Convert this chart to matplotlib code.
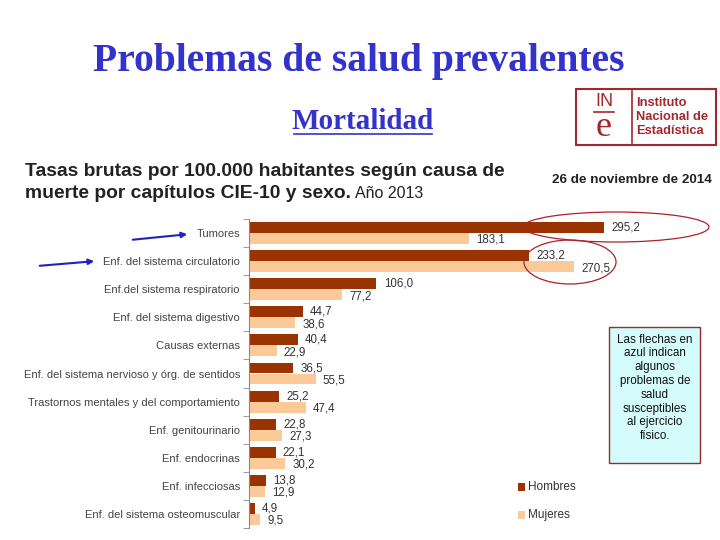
import numpy as np
import matplotlib.pyplot as plt
from matplotlib.patches import Rectangle, Ellipse, FancyArrowPatch

categorias = ['Tumores', 'Enf. del sistema circulatorio', 'Enf.del sistema respiratorio',
              'Enf. del sistema digestivo', 'Causas externas',
              'Enf. del sistema nervioso y órg. de sentidos',
              'Trastornos mentales y del comportamiento', 'Enf. genitourinario',
              'Enf. endocrinas', 'Enf. infecciosas', 'Enf. del sistema osteomuscular']
hombres = [295.2, 233.2, 106.0, 44.7, 40.4, 36.5, 25.2, 22.8, 22.1, 13.8, 4.9]
mujeres = [183.1, 270.5, 77.2, 38.6, 22.9, 55.5, 47.4, 27.3, 30.2, 12.9, 9.5]

c_h = '#993300'
c_m = '#FCC998'
azul = '#3333CC'
ine_red = '#A3282E'

W, H = 720, 540
fig = plt.figure(figsize=(7.2, 5.4), dpi=100)
plt.rcParams['font.family'] = ['Liberation Sans', 'DejaVu Sans']

def fx(x):
    return x / W

def fy(y):
    return 1 - y / H

# titulo de la diapositiva
fig.text(fx(359), fy(62), 'Problemas de salud prevalentes', family='Liberation Serif',
         fontsize=28.5, weight='bold', color=azul, ha='center', va='center')
fig.text(fx(363), fy(122), 'Mortalidad', family='Liberation Serif', fontsize=21,
         weight='bold', color=azul, ha='center', va='center')
fig.add_artist(plt.Line2D([fx(294), fx(432)], [fy(134), fy(134)], color=azul, lw=1.2))

# logo INE
fig.add_artist(Rectangle((fx(576), fy(145)), fx(140), 56 / H, fill=False,
                         edgecolor=ine_red, lw=1.5))
fig.add_artist(plt.Line2D([fx(632), fx(632)], [fy(91), fy(143)], color=ine_red, lw=1.2))
fig.text(fx(604), fy(102), 'IN', fontsize=13, color=ine_red, ha='center', va='center')
fig.add_artist(plt.Line2D([fx(594), fx(614)], [fy(112), fy(112)], color=ine_red, lw=1.2))
fig.text(fx(604), fy(127), 'e', family='Liberation Serif', fontsize=26,
         color=ine_red, ha='center', va='center')
for i, t in enumerate(['Instituto', 'Nacional de', 'Estadística']):
    fig.text(fx(636), fy(103 + i * 14), t, fontsize=9.3, weight='bold',
             color=ine_red, ha='left', va='center')

# titulo del grafico
fig.text(fx(25), fy(172), 'Tasas brutas por 100.000 habitantes según causa de',
         fontsize=13.9, weight='bold', color='#222222', ha='left', va='center')
t2 = fig.text(fx(25), fy(193), 'muerte por capítulos CIE-10 y sexo.',
              fontsize=13.9, weight='bold', color='#222222', ha='left', va='center')
fig.canvas.draw()
bb = t2.get_window_extent()
fig.text(bb.x1 / W + fx(4), fy(193), 'Año 2013', fontsize=11.5, color='#222222',
         ha='left', va='center')
fig.text(fx(712), fy(180), '26 de noviembre de 2014', fontsize=9.7, weight='bold',
         color='#222222', ha='right', va='center')

# barras
ax = fig.add_axes([fx(249), fy(528), fx(457), 309 / H])
y = np.arange(len(categorias))
bh = 0.39
ax.barh(y - bh / 2, hombres, height=bh, color=c_h)
ax.barh(y + bh / 2, mujeres, height=bh, color=c_m)
for i in range(len(categorias)):
    ax.text(hombres[i] + 6, y[i] - bh / 2, f'{hombres[i]:.1f}'.replace('.', ','),
            fontsize=8.3, color='#333333', va='center', ha='left')
    ax.text(mujeres[i] + 6, y[i] + bh / 2 + 0.05, f'{mujeres[i]:.1f}'.replace('.', ','),
            fontsize=8.3, color='#333333', va='center', ha='left')
ax.set_xlim(0, 380)
ax.set_ylim(len(categorias) - 0.5, -0.5)
ax.set_yticks(y)
ax.set_yticklabels(categorias, fontsize=8, color='#444444')
ax.tick_params(axis='y', which='major', length=0, pad=6.5)
ax.set_yticks(np.arange(-0.5, len(categorias), 1), minor=True)
ax.tick_params(axis='y', which='minor', length=4, color='#888888', direction='out')
ax.set_xticks([])
for s in ['top', 'right', 'bottom']:
    ax.spines[s].set_visible(False)
ax.spines['left'].set_color('#888888')
ax.patch.set_alpha(0)

# leyenda
for yy, col, lab in [(487, c_h, 'Hombres'), (515, c_m, 'Mujeres')]:
    fig.add_artist(Rectangle((fx(518), fy(yy + 4)), fx(7), 8 / H, color=col, lw=0))
    fig.text(fx(528), fy(yy), lab, fontsize=8.5, color='#333333', ha='left', va='center')

# elipses rojas
fig.add_artist(Ellipse((fx(616), fy(227)), fx(186), 30 / H, fill=False,
                       edgecolor='#B0202A', lw=0.9))
fig.add_artist(Ellipse((fx(570), fy(262)), fx(92), 44 / H, fill=False,
                       edgecolor='#B0202A', lw=0.9))

# flechas azules
for x0, y0, x1, y1 in [(130, 240, 190, 234), (37, 266, 97, 261)]:
    fig.add_artist(FancyArrowPatch((fx(x0), fy(y0)), (fx(x1), fy(y1)),
                                   transform=fig.transFigure, arrowstyle='-|>',
                                   mutation_scale=8, color='#2222BB', lw=1.5))

# recuadro de texto
fig.add_artist(Rectangle((fx(609), fy(463)), fx(91), 136 / H, facecolor='#D5FCFC',
                         edgecolor='#9B2A2A', lw=1))
fig.text(fx(655), fy(388), 'Las flechas en\nazul indican\nalgunos\nproblemas de\nsalud\n'
         'susceptibles\nal ejercicio\nfísico.', fontsize=8.4, color='#111111',
         ha='center', va='center', linespacing=1.2)

fig.savefig('out.png', dpi=100)
